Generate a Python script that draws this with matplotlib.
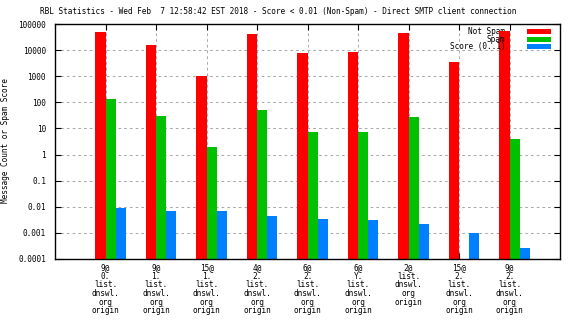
import numpy as np
import matplotlib
matplotlib.use("Agg")
import matplotlib.pyplot as plt
from matplotlib.patches import Rectangle
from matplotlib.ticker import LogLocator, NullFormatter

# ---- data ----
categories = [
    "9@\n0.\nlist.\ndnswl.\norg\norigin",
    "9@\n1.\nlist.\ndnswl.\norg\norigin",
    "15@\n1.\nlist.\ndnswl.\norg\norigin",
    "4@\n2.\nlist.\ndnswl.\norg\norigin",
    "6@\n2.\nlist.\ndnswl.\norg\norigin",
    "6@\nY.\nlist.\ndnswl.\norg\norigin",
    "2@\nlist.\ndnswl.\norg\norigin",
    "15@\n2.\nlist.\ndnswl.\norg\norigin",
    "9@\n2.\nlist.\ndnswl.\norg\norigin",
]
not_spam = [49000, 15800, 1000, 41000, 7700, 8500, 45000, 3500, 54000]
spam = [135, 30, 1.9, 50, 7.2, 7.2, 27.5, np.nan, 3.9]
score = [0.009, 0.0069, 0.0069, 0.0044, 0.0034, 0.0031, 0.0022, 0.001, 0.00026]
series_names = ["Not Spam", "Spam", "Score (0..1)"]
ytick_values = [1e-4, 1e-3, 1e-2, 1e-1, 1, 10, 100, 1000, 10000, 100000]
ytick_labels = ["0.0001", "0.001", "0.01", "0.1", "1", "10", "100", "1000", "10000", "100000"]
title = ("RBL Statistics - Wed Feb  7 12:58:42 EST 2018 - Score < 0.01 "
         "(Non-Spam) - Direct SMTP client connection")
ylabel = "Message Count or Spam Score"

# ---- style ----
W, H = 576, 324
FONT = "DejaVu Sans Mono"
FS = 5.6
colors = ["#ff0000", "#00c000", "#0080ff"]
plt.rcParams["font.family"] = FONT

fig = plt.figure(figsize=(W / 100, H / 100), dpi=100)
L, R, T, B = 55, 560, 24, 259
ax = fig.add_axes([L / W, 1 - B / H, (R - L) / W, (B - T) / H])
ax.set_axisbelow(True)

pos = np.arange(1, len(categories) + 1)
bw = 0.2
ax.bar(pos - 0.1, not_spam, width=bw, color=colors[0], zorder=2)
ax.bar(pos + 0.1, spam, width=bw, color=colors[1], zorder=2)
ax.bar(pos + 0.3, score, width=bw, color=colors[2], zorder=2)

ax.set_yscale("log")
ax.set_ylim(1e-4, 1e5)
ax.set_xlim(0, 10)
ax.set_yticks(ytick_values)
ax.set_yticklabels(ytick_labels, fontsize=FS)
ax.yaxis.set_minor_locator(LogLocator(base=10, subs=np.arange(2, 10), numticks=20))
ax.yaxis.set_minor_formatter(NullFormatter())
ax.set_xticks(pos)
ax.set_xticklabels(categories, fontsize=FS, linespacing=0.95, va="top")

ax.tick_params(axis="both", which="major", direction="in", length=4, width=0.8,
               top=True, right=True, colors="black")
ax.tick_params(axis="y", which="minor", direction="in", length=2, width=0.6,
               left=True, right=True)
ax.tick_params(axis="y", which="major", pad=6.5)
ax.tick_params(axis="x", which="major", pad=3)
ax.minorticks_on()
ax.tick_params(axis="x", which="minor", bottom=False, top=False)

ax.grid(True, which="major", axis="both", color="#a8a8a8",
        linestyle=(0, (2.5, 3)), linewidth=0.75)
for s in ax.spines.values():
    s.set_linewidth(1.0)
    s.set_color("black")

# manual key (gnuplot style)
def axc(px, py):
    return (px - L) / (R - L), (B - py) / (B - T)

rows = [31.7, 39.2, 46.8]
for i, (name, c) in enumerate(zip(series_names, colors)):
    tx, ty = axc(505, rows[i])
    ax.text(tx, ty, name, transform=ax.transAxes, ha="right", va="center",
            fontsize=FS, zorder=1.5 if i == 0 else 3)
    x0, y0 = axc(527, rows[i] + 2.5)
    x1, y1 = axc(551, rows[i] - 2.5)
    ax.add_patch(Rectangle((x0, y0), x1 - x0, y1 - y0, transform=ax.transAxes,
                           facecolor=c, edgecolor="none", zorder=3, clip_on=False))

fig.text(278.5 / W, 1 - 12 / H, title, ha="center", va="center", fontsize=FS)
fig.text(6 / W, 1 - 141 / H, ylabel, ha="center", va="center", rotation=90, fontsize=FS)

fig.savefig("out.png", dpi=100)
